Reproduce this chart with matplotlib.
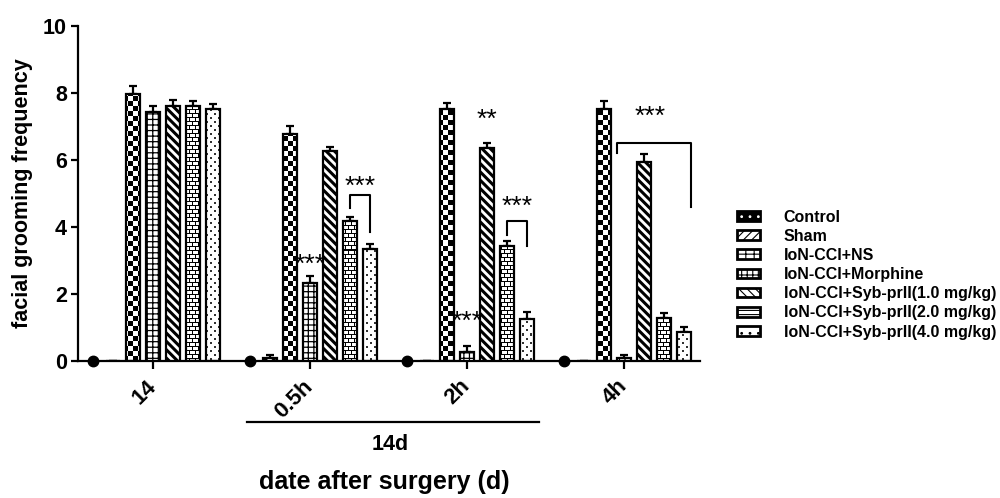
import numpy as np
import matplotlib
matplotlib.use("Agg")
import matplotlib.pyplot as plt
from matplotlib.patches import Patch
from matplotlib.transforms import blended_transform_factory

plt.rcParams["font.family"] = ["Liberation Sans", "DejaVu Sans"]
plt.rcParams["font.weight"] = "bold"

# ---- data ----
GROUPS = ["14", "0.5h", "2h", "4h"]
LABELS = ["Control", "Sham", "IoN-CCI+NS", "IoN-CCI+Morphine",
          "IoN-CCI+Syb-prII(1.0 mg/kg)", "IoN-CCI+Syb-prII(2.0 mg/kg)",
          "IoN-CCI+Syb-prII(4.0 mg/kg)"]

control = [0.0, 0.0, 0.0, 0.0]
sham = [0.0, 0.10, 0.0, 0.0]
sham_err = [0.0, 0.08, 0.0, 0.0]
ns = [7.96, 6.77, 7.52, 7.52]
ns_err = [0.24, 0.24, 0.19, 0.24]
morphine = [7.44, 2.34, 0.26, 0.10]
morphine_err = [0.18, 0.20, 0.19, 0.08]
syb1 = [7.61, 6.28, 6.35, 5.95]
syb1_err = [0.18, 0.12, 0.15, 0.22]
syb2 = [7.61, 4.19, 3.44, 1.27]
syb2_err = [0.15, 0.12, 0.13, 0.17]
syb4 = [7.53, 3.34, 1.26, 0.86]
syb4_err = [0.15, 0.15, 0.19, 0.16]

# significance marks: (group, series-from, series-to, bracket top, left end, right end, text y, text)
brackets = [
    (1, 5, 6, 4.96, 4.57, 3.85, 5.20, "***"),
    (2, 5, 6, 4.18, 3.76, 3.43, 4.60, "***"),
    (3, 3, 6, 6.50, 6.20, 4.60, 7.30, "***"),
]
stars = [(1, 3, 2.88, "***"), (2, 3, 1.17, "***"), (2, 4, 7.20, "**")]

# ---- layout ----
GROUP_STEP = 7.85
BAR_W = 0.68
gx = np.arange(len(GROUPS)) * GROUP_STEP


def slot_x(s):
    return gx + (s - 3)


fig = plt.figure(figsize=(10, 4.98), dpi=100)
ax = fig.add_axes([0.078, 0.275, 0.622, 0.673])

# pixel textures for the patterns that hatch cannot do
H, W = 335, 622
rr, cc = np.mgrid[0:H, 0:W]
checker = ((rr // 5 + cc // 5) % 2).astype(float)
brick = ((rr % 4 == 0) | ((cc + 3 * ((rr // 4) % 2)) % 6 == 0)).astype(float)
dots = 0.8 * ((((rr % 8) < 2) & ((cc % 8) < 2)) |
              (((rr % 8) - 4 >= 0) & ((rr % 8) - 4 < 2) &
               ((cc % 8) - 4 >= 0) & ((cc % 8) - 4 < 2))).astype(float)

series = [
    (1, sham, sham_err, dict(hatch="////", hlw=2.0)),
    (2, ns, ns_err, dict(texture=checker)),
    (3, morphine, morphine_err, dict(hatch="+++", hlw=0.9)),
    (4, syb1, syb1_err, dict(hatch="\\\\\\\\", hlw=2.2)),
    (5, syb2, syb2_err, dict(texture=brick)),
    (6, syb4, syb4_err, dict(texture=dots)),
]

for s, vals, errs, st in series:
    x = slot_x(s)
    plt.rcParams["hatch.linewidth"] = st.get("hlw", 1.0)
    tex = st.get("texture")
    bars = ax.bar(x, vals, width=BAR_W,
                  facecolor="none" if tex is not None else "white",
                  edgecolor="black", linewidth=1.6, hatch=st.get("hatch"),
                  zorder=3)
    ax.errorbar(x, vals, yerr=[np.zeros(len(errs)), errs], fmt="none",
                ecolor="black", elinewidth=1.6, capsize=3, capthick=1.6,
                zorder=2)
    if tex is not None:
        for b in bars:
            im = ax.imshow(tex, cmap="gray_r", vmin=0, vmax=1,
                           extent=(0, 1, 0, 1), transform=ax.transAxes,
                           interpolation="nearest", aspect="auto", zorder=2.5)
            im.set_clip_path(b)

# control group sits at zero -> drawn as a dot
ax.plot(slot_x(0), control, "o", color="black", ms=7.5, clip_on=False, zorder=5)

# significance annotations
STAR_FS = 19
for g, s0, s1, top, y0, y1, ty, txt in brackets:
    x0 = gx[g] + s0 - 3
    x1 = gx[g] + s1 - 3
    if s1 - s0 > 1:
        x0 -= 0.35
        x1 += 0.35
    ax.plot([x0, x0, x1, x1], [y0, top, top, y1], color="black", lw=1.5,
            zorder=4)
    tx = (x0 + x1) / 2 if s1 - s0 == 1 else x0 + 1.65
    ax.text(tx, ty, txt, ha="center", va="center", fontsize=STAR_FS,
            fontweight="normal")
for g, s, ty, txt in stars:
    ax.text(gx[g] + s - 3, ty, txt, ha="center", va="center",
            fontsize=STAR_FS, fontweight="normal")

# ---- axes ----
ax.set_xlim(-3.75, gx[-1] + 3.8)
ax.set_ylim(0, 10)
ax.set_yticks([0, 2, 4, 6, 8, 10])
ax.set_xticks(gx)
ax.set_xticklabels(GROUPS, rotation=45, ha="right", va="center",
                   rotation_mode="anchor", fontsize=16, fontweight="bold")
ax.tick_params(axis="x", length=6, width=1.6, pad=10)
ax.tick_params(axis="y", length=5, width=1.6, labelsize=15.5, pad=3)
for lab in ax.get_yticklabels():
    lab.set_fontweight("bold")
for side in ("top", "right"):
    ax.spines[side].set_visible(False)
for side in ("left", "bottom"):
    ax.spines[side].set_linewidth(1.6)

ax.set_ylabel("facial grooming frequency", fontsize=15.5, fontweight="bold",
              labelpad=7)

trans = blended_transform_factory(ax.transData, ax.transAxes)
ax.plot([gx[1] - 3.15, gx[2] + 3.6], [-0.182, -0.182], color="black",
        lw=1.6, transform=trans, clip_on=False)
ax.text((gx[1] + gx[2]) / 2 + 0.1, -0.248, "14d", transform=trans,
        ha="center", va="center", fontsize=15.5, fontweight="bold")
ax.text(0.493, -0.36, "date after surgery (d)", transform=ax.transAxes,
        ha="center", va="center", fontsize=18, fontweight="bold")

# ---- legend ----
leg_styles = [
    dict(hatch="..", hlw=1.0),
    dict(hatch="////", hlw=2.0),
    dict(hatch="++", hlw=1.5),
    dict(hatch="+++", hlw=1.0),
    dict(hatch="\\\\\\\\", hlw=2.0),
    dict(hatch="----", hlw=1.0),
    dict(hatch="..", hlw=0.8),
]
handles = []
for i, (lab, st) in enumerate(zip(LABELS, leg_styles)):
    plt.rcParams["hatch.linewidth"] = st["hlw"]
    if i == 0:
        # black box with white dots
        base = Patch(facecolor="black", edgecolor="black", linewidth=2.0)
        dotsp = Patch(facecolor="none", edgecolor="white", linewidth=0,
                      hatch=st["hatch"])
        handles.append((base, dotsp))
    else:
        handles.append(Patch(facecolor="white", edgecolor="black",
                             linewidth=2.0, hatch=st["hatch"]))
fig.legend(handles=handles, labels=LABELS, loc="upper left",
           bbox_to_anchor=(0.737, 0.579), frameon=False,
           handlelength=1.43, handleheight=0.56, handletextpad=1.5,
           labelspacing=0.26, borderpad=0, borderaxespad=0,
           prop={"weight": "bold", "size": 11.5})

fig.savefig("out.png", dpi=100)
